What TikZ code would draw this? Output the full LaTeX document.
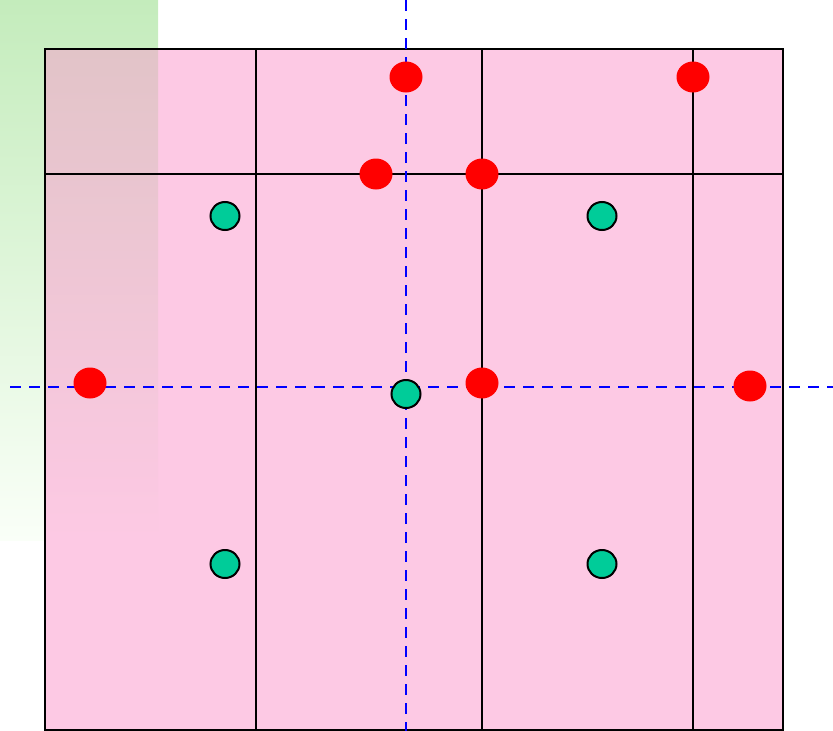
\documentclass[tikz,border=0pt]{standalone}
\usetikzlibrary{shapes.geometric}
\definecolor{pinkfill}{RGB}{253,201,228}
\definecolor{greentop}{RGB}{196,236,188}
\definecolor{greenbot}{RGB}{250,255,248}
\definecolor{mixtop}{RGB}{226,196,200}
\definecolor{dotgreen}{RGB}{0,204,153}
\definecolor{dotred}{RGB}{255,0,0}
\tikzset{
  reddot/.style={ellipse,fill=dotred,draw=none,minimum width=33pt,minimum height=31pt,inner sep=0pt},
  greendot/.style={ellipse,fill=dotgreen,draw=black,line width=2pt,minimum width=29pt,minimum height=28pt,inner sep=0pt},
  gridline/.style={black,line width=2.3pt},
  axisline/.style={blue,line width=2.6pt,dash pattern=on 10.5pt off 8.5pt}
}
\begin{document}
\begin{tikzpicture}[x=1pt,y=-1pt]
\useasboundingbox (0,0) rectangle (833,731);
% green gradient strip
\shade[top color=greentop,bottom color=greenbot,draw=none] (0,0) rectangle (158,540);
% pink square
\fill[pinkfill] (45,49) rectangle (783,730);
% tinted overlap
\shade[top color=mixtop,bottom color=pinkfill,draw=none] (45,49) rectangle (158,540);
% grid
\draw[gridline] (45,49) rectangle (783,730);
\draw[gridline] (45,174) -- (783,174);
\draw[gridline] (256,49) -- (256,730);
\draw[gridline] (482,49) -- (482,730);
\draw[gridline] (693,49) -- (693,730);
% axes
\coordinate (vt) at (406,0);
\coordinate (vb) at (406,731);
\coordinate (hl) at (10,387);
\coordinate (hr) at (833,387);
\draw[axisline] (vt) -- (vb);
\draw[axisline] (hl) -- (hr);
% red dots
\node[reddot] (r1) at (406,77) {};
\node[reddot] (r2) at (693,77) {};
\node[reddot] (r3) at (376,174) {};
\node[reddot] (r4) at (482,174) {};
\node[reddot] (r5) at (90,383) {};
\node[reddot] (r6) at (482,383) {};
\node[reddot] (r7) at (750,386) {};
% green dots
\node[greendot] (g1) at (225,216) {};
\node[greendot] (g2) at (602,216) {};
\node[greendot] (g3) at (406,394) {};
\node[greendot] (g4) at (225,564) {};
\node[greendot] (g5) at (602,564) {};
\end{tikzpicture}
\end{document}
